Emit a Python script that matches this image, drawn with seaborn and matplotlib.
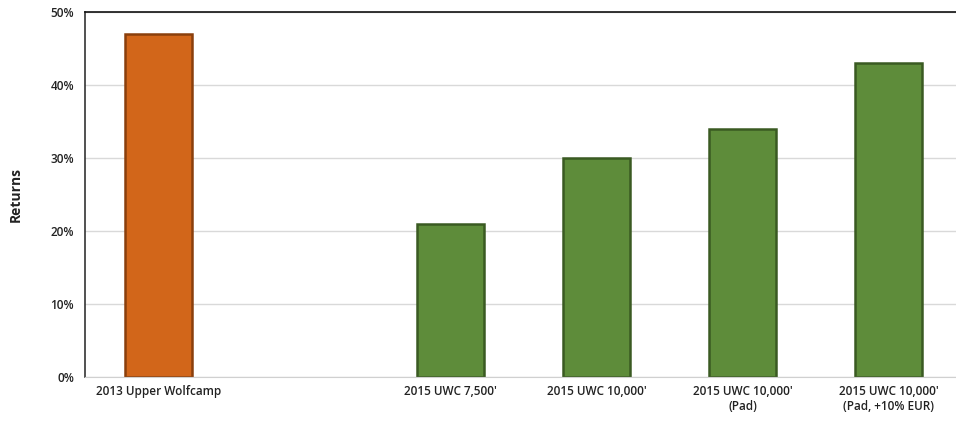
import pandas as pd
import matplotlib.pyplot as plt
import matplotlib.colors as mcolors
import matplotlib.ticker as mticker
import seaborn as sns

# --- Data
categories = [
    "2013 Upper Wolfcamp",
    " ",
    "2015 UWC 7,500'",
    "2015 UWC 10,000'",
    "2015 UWC 10,000'\n(Pad)",
    "2015 UWC 10,000'\n(Pad, +10% EUR)",
]
returns = [47, None, 21, 30, 34, 43]
groups = ["2013", "none", "2015", "2015", "2015", "2015"]
colors = {"2013": "#d2661a", "none": "#ffffff", "2015": "#5e8c3a"}
edges = {"#d2661a": "#8a3f0c", "#ffffff": "#ffffff", "#5e8c3a": "#3a5a22"}

df = pd.DataFrame({"label": categories, "returns": returns, "group": groups})

sns.set_style("white")
plt.rcParams["font.family"] = ["Open Sans", "DejaVu Sans"]

fig = plt.figure(figsize=(9.56, 4.29), dpi=100)
ax = fig.add_axes([0.089, 0.121, 0.917, 0.851])

sns.barplot(
    data=df, x="label", y="returns", hue="group", palette=colors,
    order=categories, dodge=False, width=0.46, legend=False,
    saturation=1, ax=ax,
)

# darker outline to mimic the bevelled bars
for patch in ax.patches:
    fc = mcolors.to_hex(patch.get_facecolor())
    patch.set_edgecolor(edges.get(fc, fc))
    patch.set_linewidth(1.8)

ax.set_ylim(0, 50)
ax.set_yticks(range(0, 51, 10))
ax.yaxis.set_major_formatter(mticker.FuncFormatter(lambda v, p: f"{int(v)}%"))
ax.grid(axis="y", color="#d9d9d9", linewidth=1)
ax.set_axisbelow(True)

ax.set_xlabel("")
ax.set_ylabel("Returns", fontsize=10, fontweight="bold", color="#222222", labelpad=20)
ax.tick_params(axis="both", length=0, labelsize=8.5, labelcolor="#222222")
for t in ax.get_xticklabels() + ax.get_yticklabels():
    t.set_fontweight("semibold")
ax.tick_params(axis="x", pad=6)
ax.tick_params(axis="y", pad=8)

ax.spines["top"].set_color("#111111")
ax.spines["top"].set_linewidth(1.2)
ax.spines["left"].set_color("#333333")
ax.spines["left"].set_linewidth(1.2)
ax.spines["bottom"].set_color("#d0d0d0")
ax.spines["right"].set_visible(False)

fig.savefig("out.png", dpi=100)
